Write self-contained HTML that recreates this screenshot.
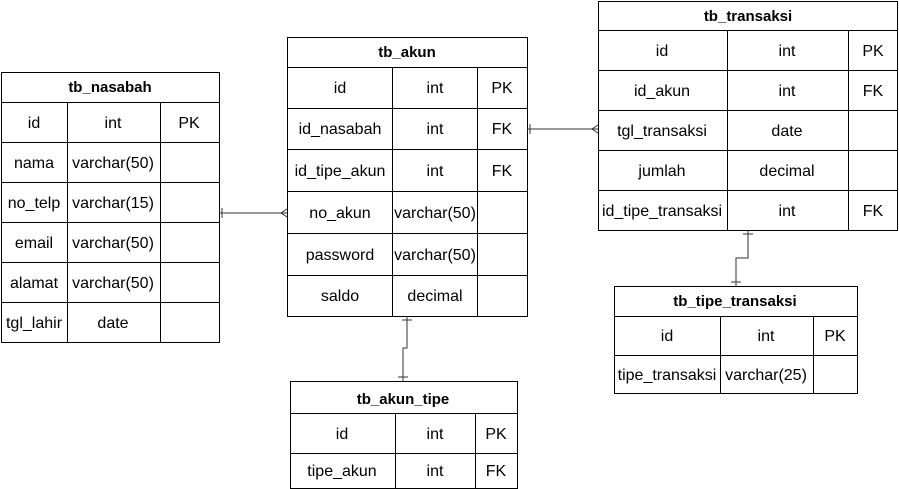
<!DOCTYPE html>
<html><head><meta charset="utf-8"><style>
html,body{margin:0;padding:0;background:#fff;}
svg{display:block;}
text{font-family:"Liberation Sans",Arial,sans-serif;font-size:16px;fill:#000;text-anchor:middle;}
.h{font-weight:bold;font-size:15px;}
</style></head><body>
<svg width="899" height="489" viewBox="0 0 899 489" xmlns="http://www.w3.org/2000/svg">
<g fill="none" stroke="#000" stroke-width="1" shape-rendering="crispEdges">
<rect x="1.5" y="72.5" width="218" height="270"/>
<path d="M1 102.5H219M1 142.5H219M1 182.5H219M1 222.5H219M1 262.5H219M1 302.5H219M67.5 102V342M160.5 102V342"/>
<rect x="287.5" y="37.5" width="240" height="279"/>
<path d="M287 67.5H527M287 108.5H527M287 149.5H527M287 191.5H527M287 233.5H527M287 275.5H527M392.5 67V316M477.5 67V316"/>
<rect x="598.5" y="1.5" width="299" height="229"/>
<path d="M598 30.5H898M598 70.5H898M598 110.5H898M598 150.5H898M598 190.5H898M727.5 30V230M848.5 30V230"/>
<rect x="614.5" y="286.5" width="243" height="107"/>
<path d="M614 316.5H857M614 355.5H857M720.5 316V393M813.5 316V393"/>
<rect x="290.5" y="381.5" width="227" height="107"/>
<path d="M290 413.5H517M290 453.5H517M395.5 413V488M475.5 413V488"/>
</g>
<g fill="none" stroke="#333" stroke-width="1">
<path d="M219 213H287"/>
<path d="M222 208V218"/>
<path d="M287 209L281 213L287 217"/>
<path d="M527 129H598"/>
<path d="M530 124V134"/>
<path d="M598 125L592 129L598 133"/>
<path d="M407 316V348H403V381"/>
<path d="M402 320H412M398 377H408"/>
<path d="M748 230V258H736V286"/>
<path d="M743 234H753M731 282H741"/>
</g>
<text class="h" x="110" y="92">tb_nasabah</text>
<text x="34" y="128">id</text><text x="113" y="128">int</text><text x="189" y="128">PK</text>
<text x="34" y="168">nama</text><text x="113" y="168">varchar(50)</text>
<text x="34" y="208">no_telp</text><text x="113" y="208">varchar(15)</text>
<text x="34" y="248">email</text><text x="113" y="248">varchar(50)</text>
<text x="34" y="288">alamat</text><text x="113" y="288">varchar(50)</text>
<text x="34" y="328">tgl_lahir</text><text x="113" y="328">date</text>

<text class="h" x="407" y="57">tb_akun</text>
<text x="340" y="93">id</text><text x="435" y="93">int</text><text x="502" y="93">PK</text>
<text x="340" y="134">id_nasabah</text><text x="435" y="134">int</text><text x="502" y="134">FK</text>
<text x="340" y="176">id_tipe_akun</text><text x="435" y="176">int</text><text x="502" y="176">FK</text>
<text x="340" y="218">no_akun</text><text x="435" y="218">varchar(50)</text>
<text x="340" y="260">password</text><text x="435" y="260">varchar(50)</text>
<text x="340" y="301">saldo</text><text x="435" y="301">decimal</text>

<text class="h" x="748" y="21">tb_transaksi</text>
<text x="662" y="56">id</text><text x="787" y="56">int</text><text x="873" y="56">PK</text>
<text x="662" y="96">id_akun</text><text x="787" y="96">int</text><text x="873" y="96">FK</text>
<text x="662" y="136">tgl_transaksi</text><text x="787" y="136">date</text>
<text x="662" y="176">jumlah</text><text x="787" y="176">decimal</text>
<text x="662" y="216">id_tipe_transaksi</text><text x="787" y="216">int</text><text x="873" y="216">FK</text>

<text class="h" x="735" y="306">tb_tipe_transaksi</text>
<text x="667" y="341">id</text><text x="766" y="341">int</text><text x="835" y="341">PK</text>
<text x="667" y="380">tipe_transaksi</text><text x="766" y="380">varchar(25)</text>

<text class="h" x="403" y="404">tb_akun_tipe</text>
<text x="342" y="439">id</text><text x="435" y="439">int</text><text x="496" y="439">PK</text>
<text x="342" y="476">tipe_akun</text><text x="435" y="476">int</text><text x="496" y="476">FK</text>
</svg>
</body></html>
